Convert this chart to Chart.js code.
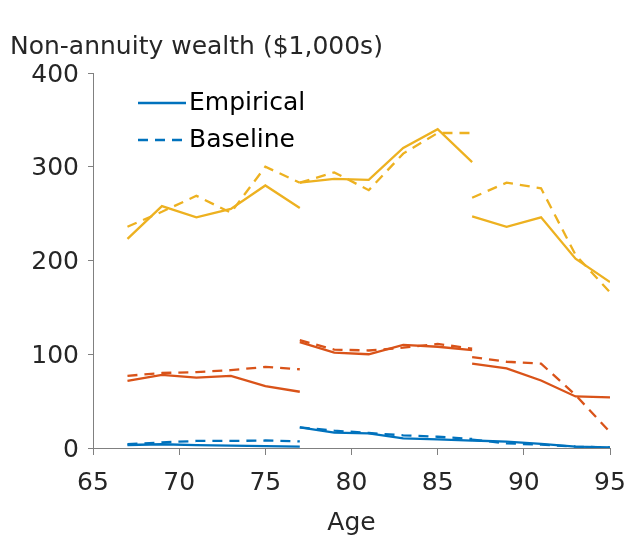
<!DOCTYPE html>
<html>
<head>
<meta charset="utf-8">
<script src="https://cdn.jsdelivr.net/npm/chart.js@4"></script>
<style>
  html, body { margin: 0; padding: 0; background: #fff; }
  #wrap { width: 628px; height: 535px; }
</style>
</head>
<body>
<div id="wrap"><canvas id="riqueza"></canvas></div>
<script>
// idades de cada coorte (três segmentos)
const idades1 = [67, 69, 71, 73, 75, 77];
const idades2 = [77, 79, 81, 83, 85, 87];
const idades3 = [87, 89, 91, 93, 95];

// azul
const azulEmp1 = [3.2, 4, 3, 2.5, 2, 1.5];
const azulEmp2 = [22, 16.3, 15.6, 10.3, 9.2, 7.8];
const azulEmp3 = [8, 6.8, 4.3, 1.5, 0.7];
const azulBase1 = [4, 6, 7.5, 7.5, 8, 7];
const azulBase2 = [22, 18.5, 16, 13.5, 12, 9.6];
const azulBase3 = [9, 5, 3.5, 1.5, 0.5];

// laranja
const larEmp1 = [71.5, 78, 75, 77, 66, 60];
const larEmp2 = [113, 101.7, 100, 110, 108, 104.5];
const larEmp3 = [90, 85, 72, 55, 54];
const larBase1 = [77, 80, 81, 83, 86.5, 84];
const larBase2 = [115, 105, 104, 107, 111, 106];
const larBase3 = [97, 92, 90, 56.5, 17];

// amarelo
const amaEmp1 = [223, 258, 246, 255, 280, 256];
const amaEmp2 = [283, 287, 286, 320, 340, 305];
const amaEmp3 = [247, 236, 246, 202, 177];
const amaBase1 = [236, 252, 269, 251, 300, 283];
const amaBase2 = [283, 294, 275, 314, 336, 336];
const amaBase3 = [267, 283, 277, 206, 166];

const ticksX = [65, 70, 75, 80, 85, 90, 95];
const ticksY = [0, 100, 200, 300, 400];

const fonte = '"DejaVu Sans", "Liberation Sans", Arial, sans-serif';
const corAzul = '#0072BD';
const corLaranja = '#D95319';
const corAmarelo = '#EDB120';
const corEixo = '#808080';
const corTexto = '#262626';

// junta os três segmentos, com um null entre eles para quebrar a linha
function juntar(s1, s2, s3) {
    const pts = [];
    idades1.forEach((x, i) => pts.push({x: x, y: s1[i]}));
    pts.push({x: 77, y: null});
    idades2.forEach((x, i) => pts.push({x: x, y: s2[i]}));
    pts.push({x: 87, y: null});
    idades3.forEach((x, i) => pts.push({x: x, y: s3[i]}));
    return pts;
}

function serie(label, cor, pontos, tracejado) {
    return {
        label: label,
        data: pontos,
        borderColor: cor,
        backgroundColor: cor,
        borderWidth: 2.3,
        borderDash: tracejado ? [10, 7] : [],
        pointRadius: 0,
        tension: 0,
        spanGaps: false,
        fill: false
    };
}

// legenda desenhada dentro da área do gráfico
const legendaInterna = {
    id: 'legendaInterna',
    afterDatasetsDraw(chart) {
        const ctx = chart.ctx;
        const itens = [
            {texto: 'Empirical', ds: chart.data.datasets[0], y: 103},
            {texto: 'Baseline', ds: chart.data.datasets[1], y: 140}
        ];
        ctx.save();
        itens.forEach(it => {
            ctx.strokeStyle = it.ds.borderColor;
            ctx.lineWidth = 2.3;
            ctx.setLineDash(it.ds.borderDash);
            ctx.beginPath();
            ctx.moveTo(138, it.y);
            ctx.lineTo(186, it.y);
            ctx.stroke();
            ctx.setLineDash([]);
            ctx.fillStyle = '#000';
            ctx.font = '25px ' + fonte;
            ctx.textBaseline = 'middle';
            ctx.textAlign = 'left';
            ctx.fillText(it.texto, 189, it.y);
        });
        ctx.restore();
    }
};

const ctx = document.getElementById('riqueza').getContext('2d');

const grafico = new Chart(ctx, {
    type: 'line',
    data: {
        datasets: [
            serie('Empirical', corAzul, juntar(azulEmp1, azulEmp2, azulEmp3), false),
            serie('Baseline', corAzul, juntar(azulBase1, azulBase2, azulBase3), true),
            serie('Empirical', corLaranja, juntar(larEmp1, larEmp2, larEmp3), false),
            serie('Baseline', corLaranja, juntar(larBase1, larBase2, larBase3), true),
            serie('Empirical', corAmarelo, juntar(amaEmp1, amaEmp2, amaEmp3), false),
            serie('Baseline', corAmarelo, juntar(amaBase1, amaBase2, amaBase3), true)
        ]
    },
    options: {
        responsive: true,
        maintainAspectRatio: false,
        animation: false,
        layout: {
            padding: {left: 10, right: 18, top: 0, bottom: 0}
        },
        scales: {
            x: {
                type: 'linear',
                min: 65,
                max: 95,
                afterBuildTicks: s => { s.ticks = ticksX.map(v => ({value: v})); },
                afterFit: s => {
                    s.height = 87;
                    s.paddingLeft = 0;
                    s.paddingRight = 0;
                },
                ticks: {
                    color: corTexto,
                    padding: 13,
                    font: {family: fonte, size: 25},
                    maxRotation: 0
                },
                grid: {
                    drawOnChartArea: false,
                    tickLength: 7,
                    color: corEixo
                },
                border: {color: corEixo, width: 1},
                title: {
                    display: true,
                    text: 'Age',
                    color: corTexto,
                    font: {family: fonte, size: 25},
                    padding: {top: 0, bottom: -3}
                }
            },
            y: {
                min: 0,
                max: 400,
                afterBuildTicks: s => { s.ticks = ticksY.map(v => ({value: v})); },
                afterFit: s => { s.width = 83; },
                ticks: {
                    color: corTexto,
                    padding: 9,
                    labelOffset: 2,
                    font: {family: fonte, size: 25}
                },
                grid: {
                    drawOnChartArea: false,
                    tickLength: 5,
                    color: corEixo
                },
                border: {color: corEixo, width: 1}
            }
        },
        plugins: {
            legend: {display: false},
            tooltip: {enabled: false},
            title: {
                display: true,
                text: 'Non-annuity wealth ($1,000s)',
                align: 'start',
                color: corTexto,
                font: {family: fonte, size: 25, weight: 'normal'},
                padding: {top: 32, bottom: 11}
            }
        }
    },
    plugins: [legendaInterna]
});
</script>
</body>
</html>
